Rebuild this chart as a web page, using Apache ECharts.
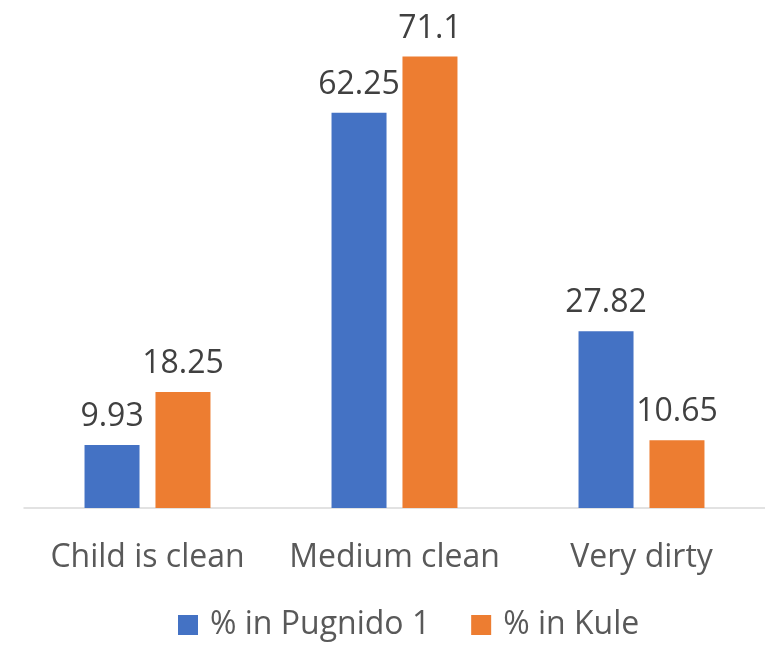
<!DOCTYPE html>
<html><head><meta charset="utf-8">
<script src="https://cdn.jsdelivr.net/npm/echarts@6/dist/echarts.min.js"></script>
<style>html,body{margin:0;padding:0;background:#fff}#c{width:765px;height:646px}</style>
</head><body><div id="c"></div>
<script>
const categories = ['Child is clean', 'Medium clean', 'Very dirty'];
const pugnido = [9.93, 62.25, 27.82];
const kule = [18.25, 71.1, 10.65];
const seriesNames = ['% in Pugnido 1', '% in Kule'];

const font = 'Open Sans';
const chart = echarts.init(document.getElementById('c'));
const label = {show: true, position: 'top', color: '#404040', fontSize: 32, fontFamily: font, distance: 12};
chart.setOption({
  animation: false,
  grid: {left: 24, right: -4, top: 0, bottom: 138},
  legend: {
    bottom: 0, left: 173, itemWidth: 20, itemHeight: 20, itemGap: 41,
    icon: 'rect',
    textStyle: {color: '#595959', fontSize: 32, fontFamily: font, padding: [0, 0, 0, 7]},
    data: seriesNames
  },
  xAxis: {
    type: 'category', data: categories,
    axisLine: {lineStyle: {color: '#d9d9d9', width: 1.5}},
    axisTick: {show: false},
    axisLabel: {color: '#595959', fontSize: 32, fontFamily: font, margin: 34, interval: 0}
  },
  yAxis: {type: 'value', min: 0, max: 80, show: false, splitLine: {show: false}},
  series: [
    {name: seriesNames[0], type: 'bar', data: pugnido, barWidth: 55, barGap: '29%', itemStyle: {color: '#4472c4'}, label: label},
    {name: seriesNames[1], type: 'bar', data: kule, barWidth: 55, itemStyle: {color: '#ed7d31'}, label: label}
  ]
});
</script></body></html>
